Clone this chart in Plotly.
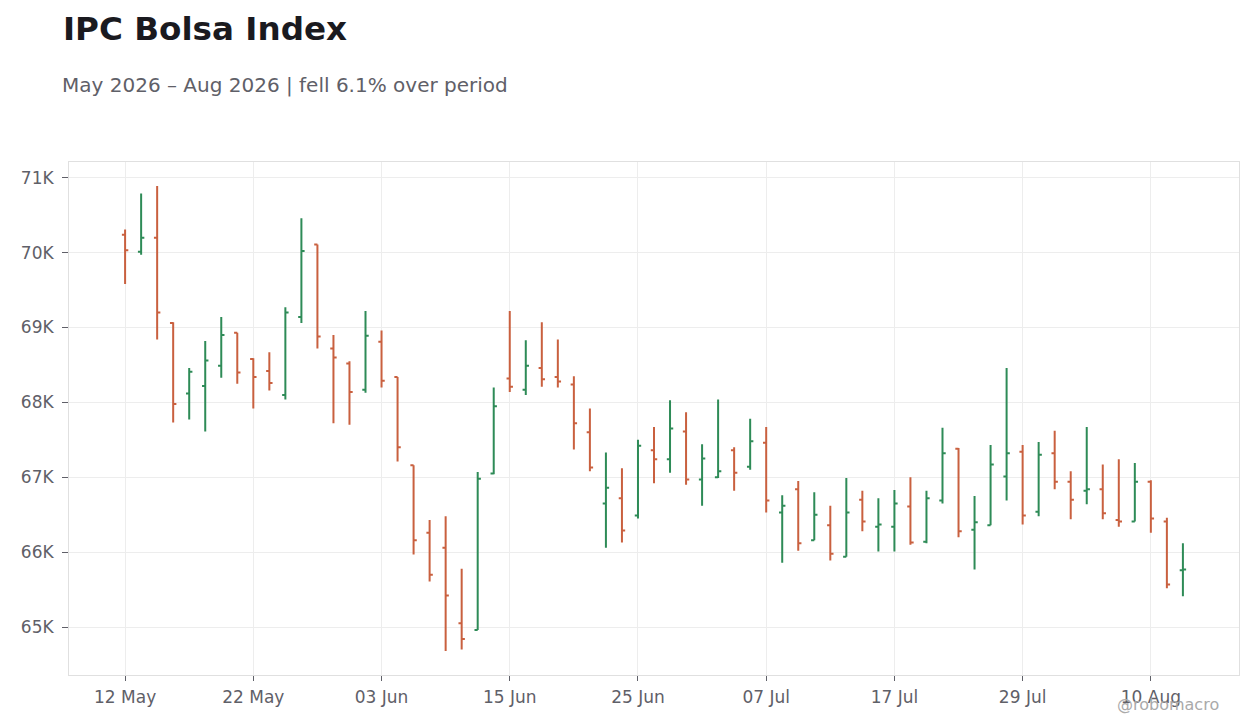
import pandas as pd
import plotly.graph_objects as go

# trading days, 12 May - 12 Aug 2026 (weekdays only)
dates = pd.bdate_range("2026-05-12", "2026-08-12")

open_ = [70240, 70010, 70200, 69060, 68120, 68220, 68490, 68930, 68580, 68420,
         68100, 69140, 70110, 68720, 68520, 68170, 68810, 68340, 67160, 66260,
         66060, 65050, 64960, 67050, 68320, 68170, 68460, 68340, 68240, 67600,
         66650, 66720, 66490, 67360, 67240, 67610, 66970, 67000, 67360, 67140,
         67460, 66530, 66840, 66160, 66360, 65940, 66700, 66340, 66340, 66610,
         66140, 66690, 67380, 66300, 66360, 67010, 67340, 66540, 67320, 66940,
         66820, 66840, 66430, 66410, 66940, 66410, 65760]
high = [70310, 70790, 70890, 69070, 68460, 68820, 69140, 68930, 68590, 68670,
        69270, 70460, 70110, 68900, 68550, 69220, 68960, 68340, 67160, 66430,
        66480, 65780, 67070, 68200, 69220, 68830, 69070, 68840, 68350, 67920,
        67330, 67120, 67500, 67670, 68030, 67870, 67440, 68040, 67400, 67780,
        67670, 66760, 66950, 66800, 66620, 66990, 66820, 66720, 66830, 67000,
        66820, 67660, 67390, 66750, 67430, 68460, 67430, 67470, 67620, 67080,
        67670, 67170, 67240, 67190, 66960, 66460, 66120]
low = [69580, 69970, 68840, 67730, 67770, 67610, 68330, 68250, 67920, 68160,
       68040, 69060, 68720, 67720, 67700, 68130, 68200, 67210, 65970, 65610,
       64680, 64700, 64960, 67040, 68140, 68100, 68210, 68200, 67370, 67080,
       66060, 66130, 66450, 66920, 67060, 66900, 66620, 66990, 66820, 67100,
       66530, 65860, 66020, 66160, 65890, 65940, 66280, 66010, 66010, 66100,
       66120, 66650, 66200, 65770, 66360, 66690, 66370, 66480, 66840, 66440,
       66640, 66440, 66340, 66410, 66260, 65520, 65410]
close = [70030, 70200, 69200, 67980, 68410, 68560, 68900, 68400, 68340, 68260,
         69200, 70020, 68880, 68600, 68140, 68890, 68290, 67400, 66160, 65700,
         65420, 64840, 66980, 67950, 68210, 68490, 68310, 68280, 67720, 67130,
         66860, 66290, 67420, 67240, 67650, 66970, 67250, 67080, 67060, 67480,
         66690, 66620, 66120, 66500, 65980, 66530, 66410, 66370, 66650, 66130,
         66720, 67320, 66280, 66400, 67170, 67320, 66490, 67300, 66940, 66700,
         66840, 66520, 66410, 66940, 66450, 65570, 65770]

tick_dates = ["2026-05-12", "2026-05-22", "2026-06-03", "2026-06-15", "2026-06-25",
              "2026-07-07", "2026-07-17", "2026-07-29", "2026-08-10"]
y_ticks = [65000, 66000, 67000, 68000, 69000, 70000, 71000]
y_labels = ["65K", "66K", "67K", "68K", "69K", "70K", "71K"]

font = "DejaVu Sans, Verdana, sans-serif"
grey = "#5f6068"

fig = go.Figure(go.Ohlc(
    x=dates, open=open_, high=high, low=low, close=close,
    increasing=dict(line=dict(color="#2e8b57", width=2)),
    decreasing=dict(line=dict(color="#c9603f", width=2)),
    tickwidth=0.2,
    showlegend=False,
))

fig.update_layout(
    width=1244, height=712,
    margin=dict(l=61, r=13, t=154, b=45),
    paper_bgcolor="white", plot_bgcolor="white",
    font=dict(family=font, size=17, color=grey),
    title=dict(text="<b>IPC Bolsa Index</b>", xref="container", yref="container",
               x=0.0442, y=0.971, xanchor="left", yanchor="middle",
               font=dict(size=32.6, color="#1a1a1f")),
    annotations=[
        dict(text="May 2026 – Aug 2026 | fell 6.1% over period", xref="paper", yref="paper",
             x=-0.0077, y=1.15, xanchor="left", yanchor="middle", showarrow=False,
             font=dict(size=20, color=grey)),
        dict(text="@robomacro", xref="paper", yref="paper",
             x=0.985, y=-0.058, xanchor="right", yanchor="middle", showarrow=False,
             font=dict(size=16, color="#aaaaaa")),
    ],
)

fig.update_xaxes(
    type="date",
    rangebreaks=[dict(bounds=["sat", "mon"])],
    range=["2026-05-06 12:00", "2026-08-17 12:00"],
    tickvals=tick_dates, tickformat="%d %b",
    rangeslider_visible=False,
    showgrid=True, gridcolor="#ededed", gridwidth=1,
    showline=True, linecolor="#e0e0e0", linewidth=1, mirror=True,
    ticks="outside", ticklen=5, tickcolor=grey, ticklabelstandoff=2,
    zeroline=False,
)
fig.update_yaxes(
    range=[64360, 71210],
    tickvals=y_ticks, ticktext=y_labels,
    showgrid=True, gridcolor="#ededed", gridwidth=1,
    showline=True, linecolor="#e0e0e0", linewidth=1, mirror=True,
    ticks="outside", ticklen=6, tickcolor=grey, ticklabelstandoff=5,
    zeroline=False,
)

fig.write_html("out.html")
